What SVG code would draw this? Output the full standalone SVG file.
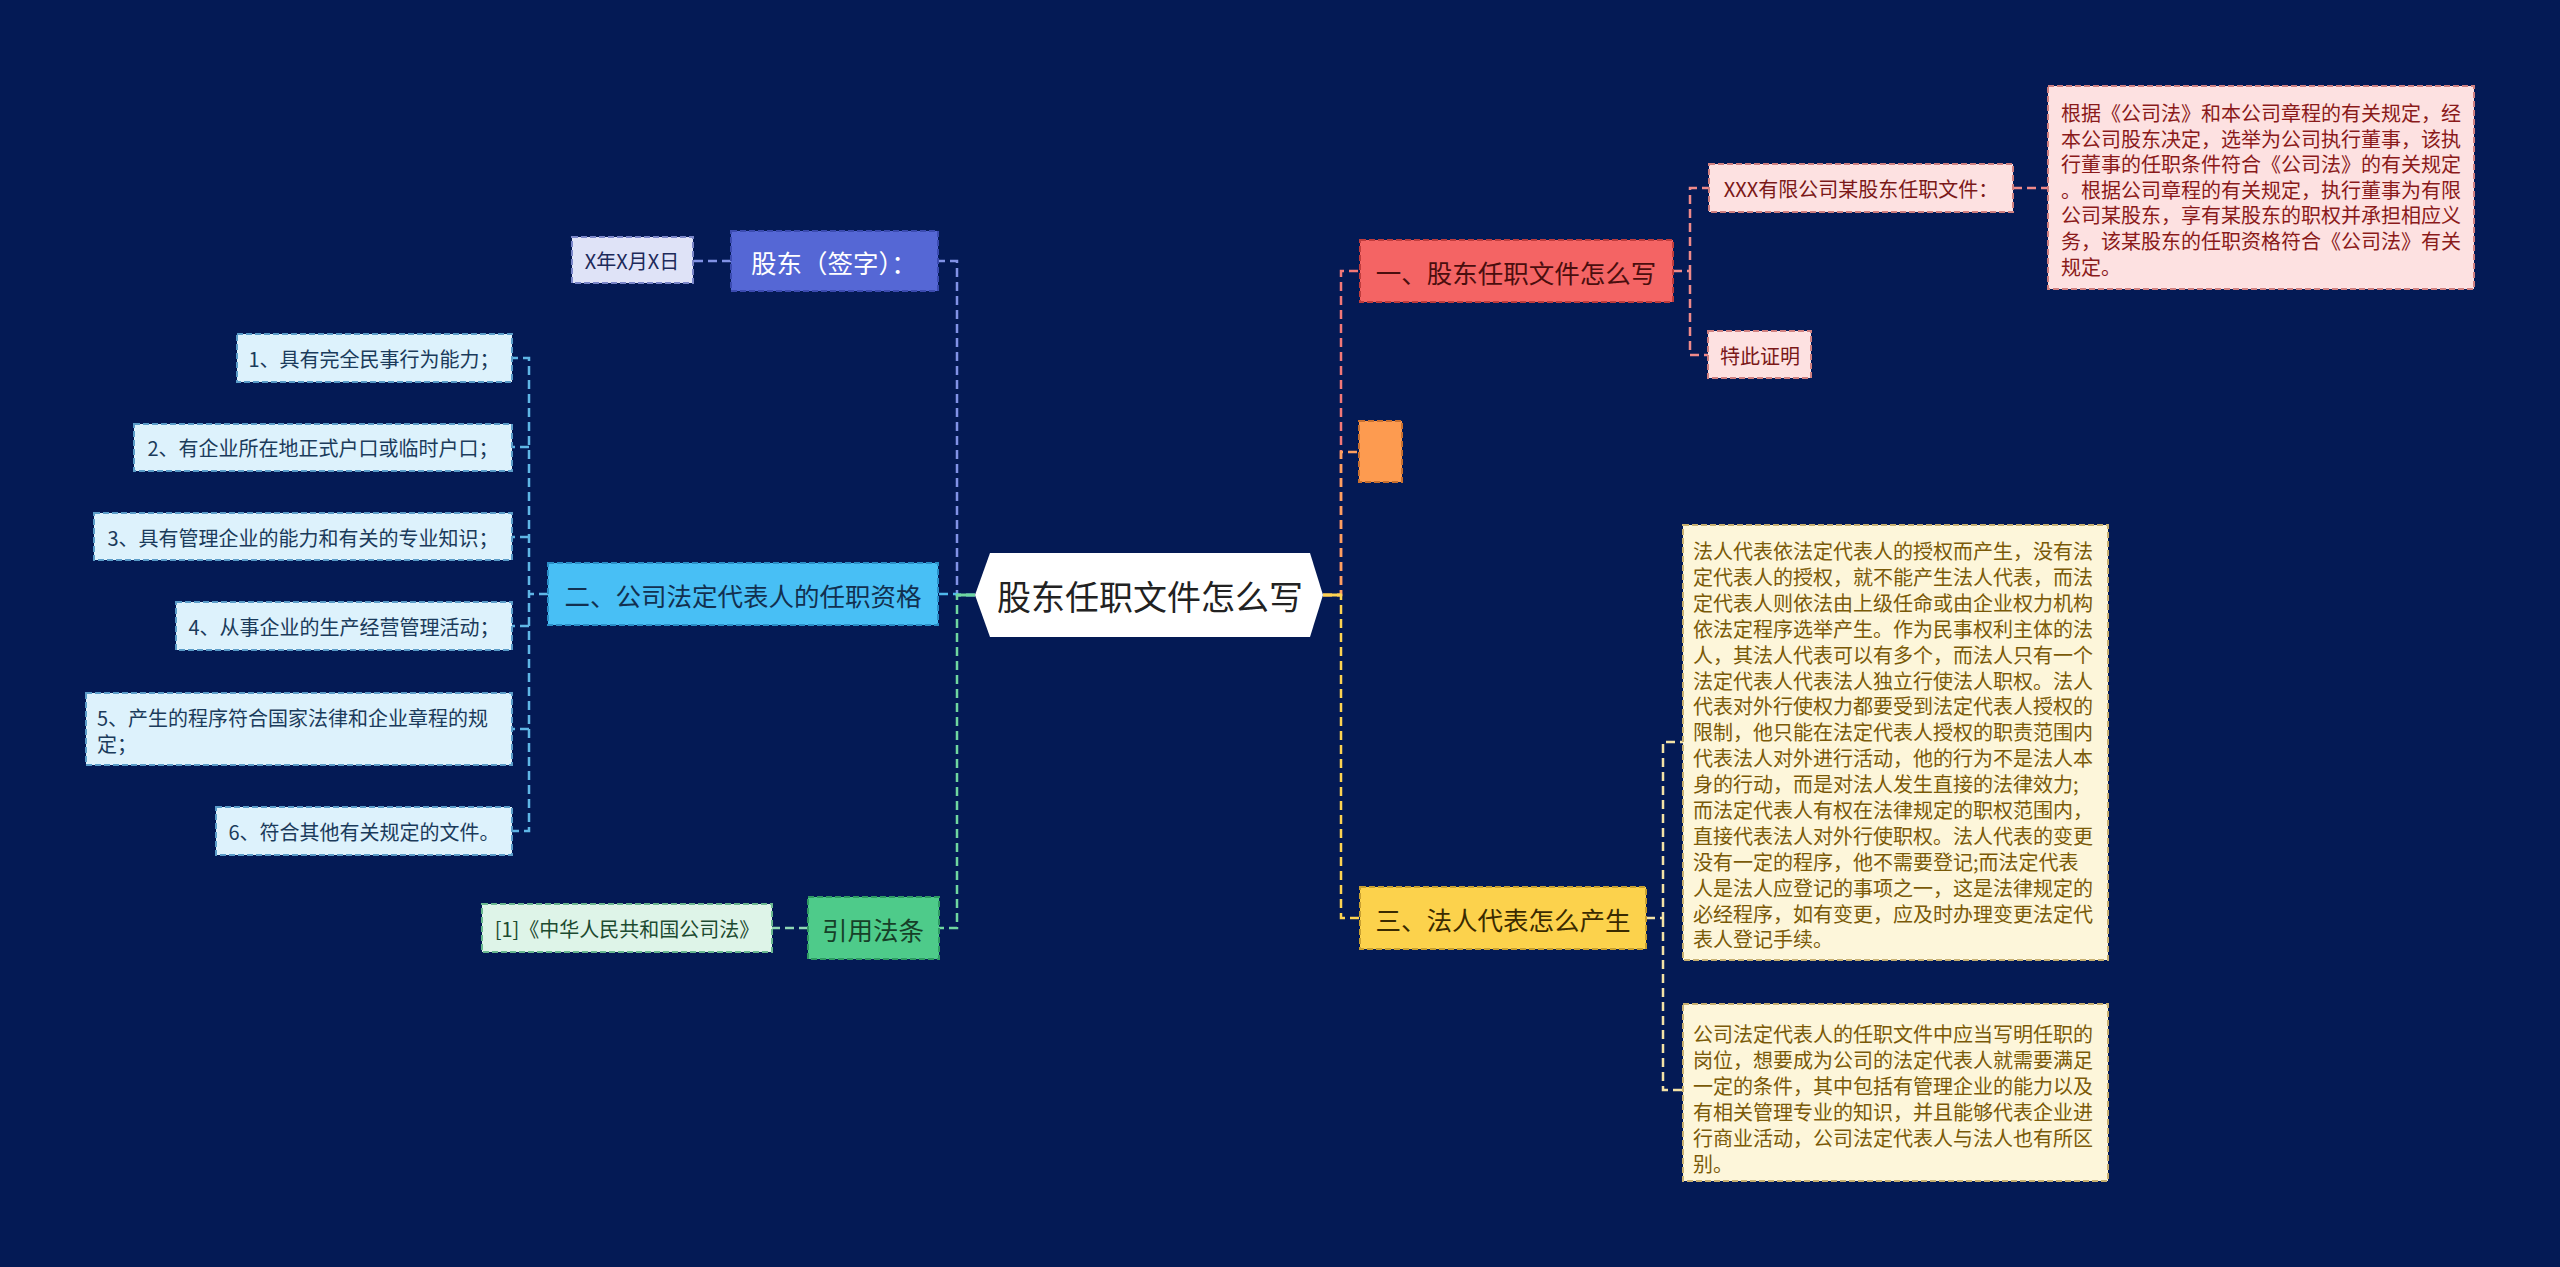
<svg xmlns="http://www.w3.org/2000/svg" width="2560" height="1267" viewBox="0 0 2560 1267">
<style>
text{font-family:"Noto Sans CJK SC","Noto Sans",sans-serif;dominant-baseline:central}
.c{fill:none;stroke-width:2.5;stroke-dasharray:9 5}
.b{stroke-width:2;stroke-dasharray:6 3}
.m{font-size:25.5px;text-anchor:middle}
.s{font-size:20px;text-anchor:middle}
.p{font-size:20px}
</style>
<rect width="2560" height="1267" fill="#041a55"/>
<g id="connectors">
<path class="c" stroke="#8192e6" d="M975,595H957V261H938"/>
<path class="c" stroke="#8192e6" d="M731,261H693"/>
<path class="c" stroke="#4fb8ec" d="M975,595H957V594H938"/>
<path class="c" stroke="#5fb6e6" d="M548,594H529V358H512M529,447H512M529,537H512M529,626H512M548,594H529V831H512M529,729H512"/>
<path class="c" stroke="#6fd6a0" d="M975,595H957V928H939"/>
<path class="c" stroke="#8fd8b4" d="M808,928H772"/>
<path class="c" stroke="#f27878" d="M1323,595H1341V271H1360"/>
<path class="c" stroke="#f08a8a" d="M1673,271H1690V188H1709M1690,271V355H1708"/>
<path class="c" stroke="#f08a8a" d="M2013,188H2048"/>
<path class="c" stroke="#fda060" d="M1323,595H1341V452H1359"/>
<path class="c" stroke="#fdd452" d="M1323,595H1341V918H1360"/>
<path class="c" stroke="#f3e2a6" d="M1646,918H1663V742H1683M1663,918V1090H1683"/>
<path fill="none" stroke="#fdd452" stroke-width="3" d="M1323,595H1341"/>
<path fill="none" stroke="#6fd6a0" stroke-width="3" d="M975,595H957"/>
</g>
<g id="center">
<polygon points="975,595 990,553 1310,553 1323,595 1310,637 990,637" fill="#ffffff"/>
<text x="1150" y="595" font-size="34" text-anchor="middle" fill="#222">股东任职文件怎么写</text>
</g>
<g id="n-gudong">
<rect class="b" x="731" y="231" width="207" height="60" fill="#5567d5" stroke="#3b4bb0"/>
<text class="m" x="834" y="261" fill="#ffffff">股东（签字）：</text>
</g>
<g id="n-date">
<rect class="b" x="572" y="237" width="121" height="46" fill="#dfe3f7" stroke="#7a86c8"/>
<text class="s" x="632" y="260" fill="#1d2a5a">X年X月X日</text>
</g>
<g id="n-er">
<rect class="b" x="548" y="563" width="390" height="62" fill="#48bff5" stroke="#2a8fc8"/>
<text class="m" x="743" y="594" fill="#123050">二、公司法定代表人的任职资格</text>
</g>
<g id="n-i1">
<rect class="b" x="237" y="334" width="275" height="48" fill="#ddf2fc" stroke="#5a9cc8"/>
<text class="s" x="374" y="358" fill="#1b3b5b">1、具有完全民事行为能力；</text>
</g>
<g id="n-i2">
<rect class="b" x="134" y="424" width="378" height="47" fill="#ddf2fc" stroke="#5a9cc8"/>
<text class="s" x="323" y="447" fill="#1b3b5b">2、有企业所在地正式户口或临时户口；</text>
</g>
<g id="n-i3">
<rect class="b" x="94" y="513" width="418" height="47" fill="#ddf2fc" stroke="#5a9cc8"/>
<text class="s" x="303" y="537" fill="#1b3b5b">3、具有管理企业的能力和有关的专业知识；</text>
</g>
<g id="n-i4">
<rect class="b" x="176" y="602" width="336" height="48" fill="#ddf2fc" stroke="#5a9cc8"/>
<text class="s" x="344" y="626" fill="#1b3b5b">4、从事企业的生产经营管理活动；</text>
</g>
<g id="n-i5">
<rect class="b" x="86" y="693" width="426" height="72" fill="#ddf2fc" stroke="#5a9cc8"/>
<text class="p" x="97" y="717" fill="#1b3b5b">5、产生的程序符合国家法律和企业章程的规<tspan x="97" dy="26">定；</tspan></text>
</g>
<g id="n-i6">
<rect class="b" x="216" y="807" width="296" height="48" fill="#ddf2fc" stroke="#5a9cc8"/>
<text class="s" x="364" y="831" fill="#1b3b5b">6、符合其他有关规定的文件。</text>
</g>
<g id="n-yinyong">
<rect class="b" x="808" y="897" width="131" height="62" fill="#4ecb8a" stroke="#2e9a62"/>
<text class="m" x="873" y="928" fill="#163f28">引用法条</text>
</g>
<g id="n-ref">
<rect class="b" x="482" y="904" width="290" height="48" fill="#def4e8" stroke="#6ab890"/>
<text class="s" x="627" y="928" fill="#1c4a30">[1]《中华人民共和国公司法》</text>
</g>
<g id="n-yi">
<rect class="b" x="1360" y="240" width="313" height="62" fill="#f46464" stroke="#c03c3c"/>
<text class="m" x="1516" y="271" fill="#4a0e0e">一、股东任职文件怎么写</text>
</g>
<g id="n-xxx">
<rect class="b" x="1709" y="164" width="304" height="48" fill="#fde1e1" stroke="#d08080"/>
<text class="s" x="1861" y="188" fill="#7a1818">XXX有限公司某股东任职文件：</text>
</g>
<g id="n-xxx-text">
<rect class="b" x="2048" y="86" width="426" height="203" fill="#fde1e1" stroke="#d08080"/>
<text class="p" x="2061" y="112" fill="#8a1a1a">根据《公司法》和本公司章程的有关规定，经<tspan x="2061" dy="25.6">本公司股东决定，选举为公司执行董事，该执</tspan><tspan x="2061" dy="25.6">行董事的任职条件符合《公司法》的有关规定</tspan><tspan x="2061" dy="25.6">。根据公司章程的有关规定，执行董事为有限</tspan><tspan x="2061" dy="25.6">公司某股东，享有某股东的职权并承担相应义</tspan><tspan x="2061" dy="25.6">务，该某股东的任职资格符合《公司法》有关</tspan><tspan x="2061" dy="25.6">规定。</tspan></text>
</g>
<g id="n-tecizhengming">
<rect class="b" x="1708" y="331" width="103" height="47" fill="#fde1e1" stroke="#d08080"/>
<text class="s" x="1760" y="355" fill="#7a1818">特此证明</text>
</g>
<g id="n-orange">
<rect class="b" x="1359" y="421" width="43" height="61" fill="#fd9b50" stroke="#c87030"/>
</g>
<g id="n-san">
<rect class="b" x="1360" y="887" width="286" height="62" fill="#fcd24c" stroke="#c8a030"/>
<text class="m" x="1503" y="918" fill="#3a2a00">三、法人代表怎么产生</text>
</g>
<g id="n-san-t1">
<rect class="b" x="1683" y="525" width="425" height="435" fill="#fdf6da" stroke="#c8b070"/>
<text class="p" x="1693" y="550" fill="#7a5a08">法人代表依法定代表人的授权而产生，没有法<tspan x="1693" dy="25.9">定代表人的授权，就不能产生法人代表，而法</tspan><tspan x="1693" dy="25.9">定代表人则依法由上级任命或由企业权力机构</tspan><tspan x="1693" dy="25.9">依法定程序选举产生。作为民事权利主体的法</tspan><tspan x="1693" dy="25.9">人，其法人代表可以有多个，而法人只有一个</tspan><tspan x="1693" dy="25.9">法定代表人代表法人独立行使法人职权。法人</tspan><tspan x="1693" dy="25.9">代表对外行使权力都要受到法定代表人授权的</tspan><tspan x="1693" dy="25.9">限制，他只能在法定代表人授权的职责范围内</tspan><tspan x="1693" dy="25.9">代表法人对外进行活动，他的行为不是法人本</tspan><tspan x="1693" dy="25.9">身的行动，而是对法人发生直接的法律效力;</tspan><tspan x="1693" dy="25.9">而法定代表人有权在法律规定的职权范围内，</tspan><tspan x="1693" dy="25.9">直接代表法人对外行使职权。法人代表的变更</tspan><tspan x="1693" dy="25.9">没有一定的程序，他不需要登记;而法定代表</tspan><tspan x="1693" dy="25.9">人是法人应登记的事项之一，这是法律规定的</tspan><tspan x="1693" dy="25.9">必经程序，如有变更，应及时办理变更法定代</tspan><tspan x="1693" dy="25.9">表人登记手续。</tspan></text>
</g>
<g id="n-san-t2">
<rect class="b" x="1683" y="1004" width="425" height="177" fill="#fdf6da" stroke="#c8b070"/>
<text class="p" x="1693" y="1033" fill="#7a5a08">公司法定代表人的任职文件中应当写明任职的<tspan x="1693" dy="25.9">岗位，想要成为公司的法定代表人就需要满足</tspan><tspan x="1693" dy="25.9">一定的条件，其中包括有管理企业的能力以及</tspan><tspan x="1693" dy="25.9">有相关管理专业的知识，并且能够代表企业进</tspan><tspan x="1693" dy="25.9">行商业活动，公司法定代表人与法人也有所区</tspan><tspan x="1693" dy="25.9">别。</tspan></text>
</g>
</svg>
